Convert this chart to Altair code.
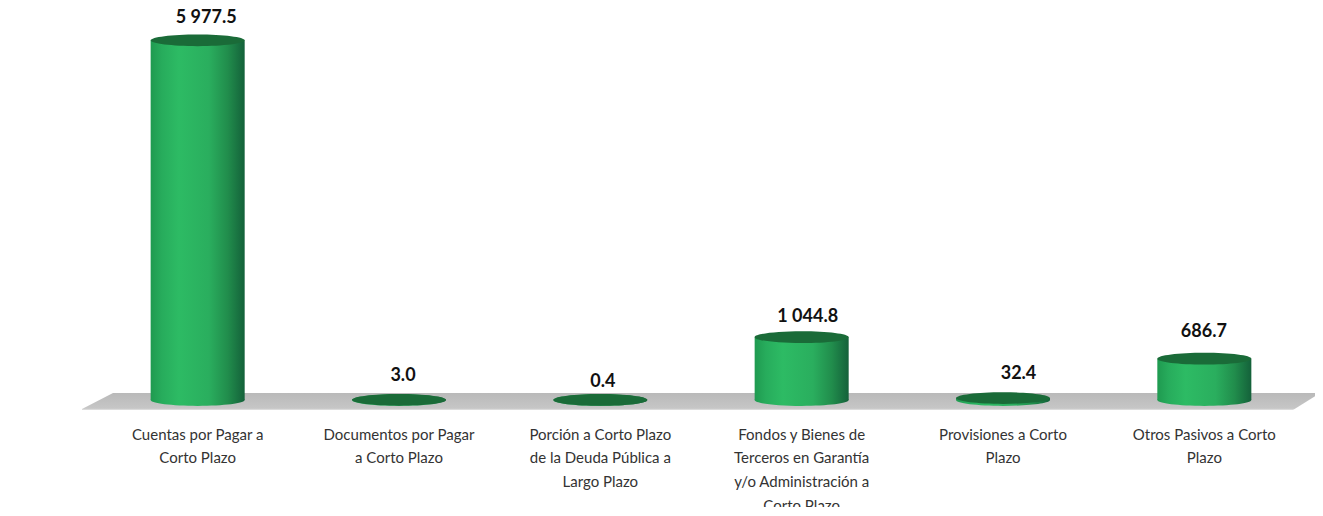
import altair as alt
import pandas as pd

categories = [
    "Cuentas por Pagar a|Corto Plazo",
    "Documentos por Pagar|a Corto Plazo",
    "Porción a Corto Plazo|de la Deuda Pública a|Largo Plazo",
    "Fondos y Bienes de|Terceros en Garantía|y/o Administración a|Corto Plazo",
    "Provisiones a Corto|Plazo",
    "Otros Pasivos a Corto|Plazo",
]
values = [5977.5, 3.0, 0.4, 1044.8, 32.4, 686.7]

FONT = "Lato"
ELLIPSE = "M-1,0A1,0.125,0,1,1,1,0A1,0.125,0,1,1,-1,0Z"
FLOOR = "M-6.19,0.08L-5.88,-0.08L6.19,-0.08L5.92,0.09L-6.19,0.09Z"
BAR_W = 94
LIFT = -7
# label nudges (dx, dy) around each bar top, as in the reference
nudges = [(8.5, -29), (4, -31), (2.5, -25), (6, -27), (15.5, -31), (-0.5, -34)]

df = pd.DataFrame({"cat": categories, "v": values, "zero": [0] * len(values)})
df["label"] = [f"{v:,.1f}".replace(",", " ") for v in values]

x = alt.X(
    "cat:N",
    sort=categories,
    title=None,
    scale=alt.Scale(paddingInner=0.533, paddingOuter=0.2665),
    axis=alt.Axis(
        labelExpr="split(datum.label,'|')",
        labelAngle=0,
        labelFont=FONT,
        labelFontSize=15,
        labelColor="#333333",
        labelLineHeight=23.7,
        labelPadding=20,
        labelBaseline="top",
        labelLimit=300,
        domain=False,
        ticks=False,
        grid=False,
    ),
)
y = alt.Y(
    "v:Q",
    title=None,
    scale=alt.Scale(domain=[0, 6000], nice=False),
    axis=alt.Axis(
        values=[0, 1000, 2000, 3000, 4000, 5000, 6000],
        labelExpr="replace(format(datum.value,','),',',' ')",
        labelFont=FONT,
        labelFontSize=20,
        labelColor="#333333",
        labelPadding=35,
        domain=False,
        ticks=False,
        grid=False,
    ),
)

body_gradient = alt.Gradient(
    gradient="linear",
    x1=0,
    x2=1,
    y1=0,
    y2=0,
    stops=[
        alt.GradientStop(offset=0, color="#1f9a50"),
        alt.GradientStop(offset=0.12, color="#27ac5c"),
        alt.GradientStop(offset=0.3, color="#2dbb64"),
        alt.GradientStop(offset=0.62, color="#2aae5e"),
        alt.GradientStop(offset=0.82, color="#218d4c"),
        alt.GradientStop(offset=1, color="#14613a"),
    ],
)
floor_gradient = alt.Gradient(
    gradient="linear",
    x1=0,
    x2=0,
    y1=0,
    y2=1,
    stops=[
        alt.GradientStop(offset=0, color="#b9b9b9"),
        alt.GradientStop(offset=0.9, color="#c6c6c6"),
        alt.GradientStop(offset=1, color="#e4e4e4"),
    ],
)

base = alt.Chart(df)

floor = alt.Chart(pd.DataFrame({"a": [0]})).mark_point(
    shape=FLOOR, size=40000, filled=True, opacity=1, fill=floor_gradient
).encode(x=alt.value(604), y=alt.value(355))

bottom = base.mark_point(
    shape=ELLIPSE, size=BAR_W**2, filled=True, opacity=1, fill=body_gradient, yOffset=LIFT
).encode(x=x, y=alt.Y("zero:Q", scale=alt.Scale(domain=[0, 6000], nice=False), axis=None))

body = base.mark_bar(fill=body_gradient, yOffset=LIFT, y2Offset=LIFT).encode(
    x=x, y=y, y2=alt.Y2("zero:Q")
)

top = base.mark_point(
    shape=ELLIPSE, size=BAR_W**2, filled=True, opacity=1, fill="#1a6b38", yOffset=LIFT
).encode(x=x, y=y)

labels = [
    alt.Chart(df.iloc[[i]]).mark_text(
        font=FONT, fontSize=18, fontWeight="bold", color="#111111", dx=dx, dy=dy, baseline="middle"
    ).encode(x=x, y=y, text="label:N")
    for i, (dx, dy) in enumerate(nudges)
]

chart = (
    alt.layer(floor, bottom, body, top, *labels)
    .properties(
        width=1208,
        height=361,
        padding={"left": 89, "top": 38, "right": 10, "bottom": 100},
        autosize=alt.AutoSizeParams(type="none"),
    )
    .configure_view(stroke=None)
)

chart.save("out.html", embed_options={"renderer": "svg", "actions": False})
